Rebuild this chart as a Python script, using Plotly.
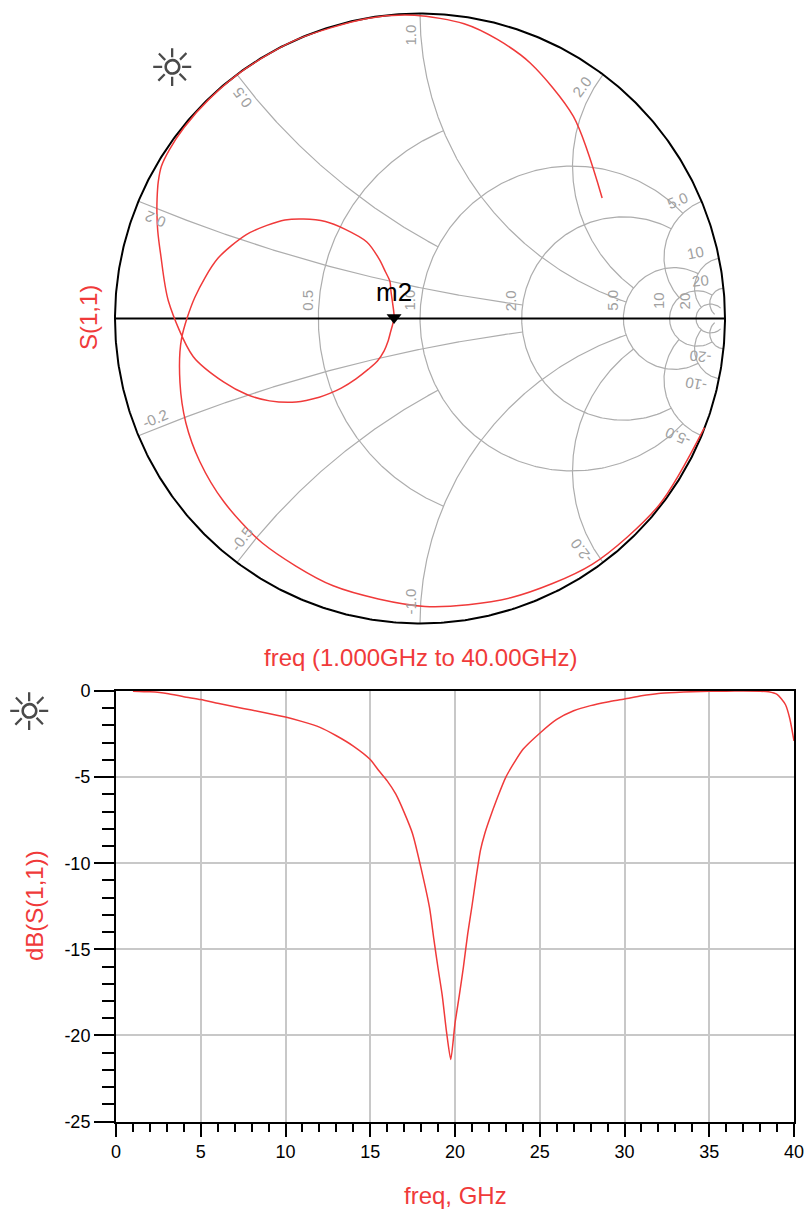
import numpy as np
import plotly.graph_objects as go

# ---------------- S11 sweep (magnitude in dB, phase in degrees) ----------------
freq_ghz = [1, 2, 3, 4, 5, 6, 7, 8, 9, 10, 11, 12, 13, 14, 15, 15.5, 16, 16.5, 17,
            17.5, 18, 18.5, 18.75, 19, 19.25, 19.5, 19.75, 20, 20.25, 20.5, 20.75, 21,
            21.25, 21.5, 21.75, 22, 22.5, 23, 23.5, 24, 25, 26, 27, 28, 29, 30, 31, 32,
            33, 34, 35, 36, 37, 38, 38.5, 39, 39.25, 39.5, 39.75, 40]
s11_db = [-0.01, -0.05, -0.14, -0.33, -0.50, -0.71, -0.92, -1.11, -1.30, -1.51, -1.78,
          -2.10, -2.60, -3.20, -3.98, -4.62, -5.22, -5.98, -7.05, -8.30, -10.3, -12.6,
          -14.4, -16.1, -17.7, -19.8, -21.4, -19.3, -17.7, -16.0, -14.1, -12.5, -10.8,
          -9.25, -8.30, -7.55, -6.20, -5.00, -4.15, -3.40, -2.45, -1.65, -1.15, -0.85,
          -0.64, -0.47, -0.28, -0.14, -0.08, -0.04, -0.02, -0.01, 0.0, -0.01, -0.05,
          -0.20, -0.45, -0.80, -1.60, -2.90]
s11_ang = [-21, -38, -55, -72, -89, -108, -125, -137, -147, -156, -165, -175, 174.6,
           163.5, 154.2, 148.7, 143.9, 139.5, 134.3, 130.2, 124.8, 124.5, 126.5, 129,
           136.9, 151.2, 178, -154, -144, -137.9, -135, -135.5, -136.7, -138.5, -140.3,
           -142, -146, -151.3, -156.3, -162, -170.5, 176, 166.1, 161.5, 158.2, 155.5,
           152.4, 149.5, 146, 141, 134, 125, 114, 100, 91, 81.5, 74.5, 66.6, 52.8, 33.5]

marker_freq = 19.75
marker_name = "m2"

# ---------------- Smith chart grid definition ----------------
res_circles = [0.5, 1.0, 2.0, 5.0, 10.0, 20.0]
res_extent = [1.0, 5.0, 5.0, 10.0, 20.0, 50.0]      # |x| reach of each r circle
res_text = ["0.5", "1.0", "2.0", "5.0", "10", "20"]
react_arcs = [0.2, 0.5, 1.0, 2.0, 5.0, 10.0, 20.0]
react_extent = [2.0, 1.0, 5.0, 5.0, 10.0, 20.0, 50.0]  # r reach of each x arc
react_text = ["0.2", "0.5", "1.0", "2.0", "5.0", "10", "20"]

# ---------------- rectangular plot ticks ----------------
f_ticks = [0, 5, 10, 15, 20, 25, 30, 35, 40]
db_ticks = [0, -5, -10, -15, -20, -25]
db_ticktext = ["0", "-5", "-10", "-15", "-20", "-25"]

W, H = 806, 1220
FONT = "Liberation Sans, Arial, sans-serif"
RED = "#f03a3a"
GRID = "#adadad"
LABEL_GREY = "#a0a0a0"

# page placement (pixels)
CX, CY, R = 420.0, 318.5, 305.0
PAD = 1.04
RL, RR, RT, RB = 116.0, 794.0, 691.0, 1121.5


def to_gamma(z):
    return (z - 1) / (z + 1)


fig = go.Figure()

# ---- Smith grid lines ----
gx, gy = [], []
for r, xm in zip(res_circles, res_extent):
    t = np.linspace(-np.arctan(xm), np.arctan(xm), 401)
    g = to_gamma(r + 1j * np.tan(t))
    gx += list(g.real) + [None]
    gy += list(g.imag) + [None]
for x, rm in zip(react_arcs, react_extent):
    for s in (1, -1):
        t = np.linspace(0, np.arctan(rm), 401)
        g = to_gamma(np.tan(t) + 1j * s * x)
        gx += list(g.real) + [None]
        gy += list(g.imag) + [None]
fig.add_trace(go.Scatter(x=gx, y=gy, mode="lines", line=dict(color=GRID, width=1.2),
                         hoverinfo="skip", xaxis="x2", yaxis="y2"))

# outer boundary and real axis
th = np.linspace(0, 2 * np.pi, 721)
fig.add_trace(go.Scatter(x=np.cos(th), y=np.sin(th), mode="lines",
                         line=dict(color="black", width=2), hoverinfo="skip",
                         xaxis="x2", yaxis="y2"))
fig.add_trace(go.Scatter(x=[-1, 1], y=[0, 0], mode="lines",
                         line=dict(color="black", width=1.8), hoverinfo="skip",
                         xaxis="x2", yaxis="y2"))

# ---- S11 trace on the Smith chart ----
mag = 10 ** (np.array(s11_db) / 20.0)
ang = np.deg2rad(np.array(s11_ang))
gam = mag * np.exp(1j * ang)
fig.add_trace(go.Scatter(x=gam.real, y=gam.imag, mode="lines",
                         line=dict(color=RED, width=1.5, shape="spline", smoothing=0.8),
                         xaxis="x2", yaxis="y2"))

mi = freq_ghz.index(marker_freq)
fig.add_trace(go.Scatter(x=[gam.real[mi]], y=[gam.imag[mi]], mode="markers",
                         marker=dict(symbol="triangle-down", size=13, color="black"),
                         xaxis="x2", yaxis="y2"))

# ---- dB(S11) vs frequency ----
fig.add_trace(go.Scatter(x=freq_ghz, y=s11_db, mode="lines",
                         line=dict(color=RED, width=1.5, shape="spline", smoothing=0.6),
                         xaxis="x", yaxis="y"))

annotations = []


def label(**kw):
    kw.setdefault("showarrow", False)
    kw.setdefault("xanchor", "center")
    kw.setdefault("yanchor", "middle")
    annotations.append(kw)


# resistance labels on the real axis
for r, txt in zip(res_circles, res_text):
    g0 = to_gamma(r)
    label(x=g0, y=0, xref="x2", yref="y2", text=txt, textangle=-90, xshift=-11,
          yshift=18, font=dict(family=FONT, size=15, color=LABEL_GREY))

# reactance labels just inside the rim
for x, txt in zip(react_arcs, react_text):
    for s in (1, -1):
        ge = to_gamma(1j * s * x)
        theta = np.angle(ge)
        radial = ge * (1 - 22.0 / R)
        tang = 1j * ge if s > 0 else -1j * ge
        pos = radial + tang * (10.0 / R)
        rot = -np.degrees(theta) if s > 0 else 180 - np.degrees(theta)
        rot = (rot + 180) % 360 - 180
        label(x=pos.real, y=pos.imag, xref="x2", yref="y2",
              text=txt if s > 0 else "-" + txt, textangle=rot,
              font=dict(family=FONT, size=15, color=LABEL_GREY))

# marker label
label(x=gam.real[mi], y=gam.imag[mi], xref="x2", yref="y2", text=marker_name,
      yshift=26, font=dict(family=FONT, size=26, color="black"))

# titles and palette icons
label(x=420 / W, y=1 - 657 / H, xref="paper", yref="paper",
      text="freq (1.000GHz to 40.00GHz)", font=dict(family=FONT, size=24, color=RED))
label(x=88 / W, y=1 - 318 / H, xref="paper", yref="paper", text="S(1,1)",
      textangle=-90, font=dict(family=FONT, size=24, color=RED))
label(x=34 / W, y=1 - 906 / H, xref="paper", yref="paper", text="dB(S(1,1))",
      textangle=-90, font=dict(family=FONT, size=24, color=RED))
label(x=455 / W, y=1 - 1195 / H, xref="paper", yref="paper", text="freq, GHz",
      font=dict(family=FONT, size=24, color=RED))
label(x=172 / W, y=1 - 68 / H, xref="paper", yref="paper", text="☼",
      font=dict(family="DejaVu Sans", size=52, color="#4a4a4a"))
label(x=30 / W, y=1 - 712 / H, xref="paper", yref="paper", text="☼",
      font=dict(family="DejaVu Sans", size=52, color="#4a4a4a"))

axis_common = dict(showline=True, linecolor="black", linewidth=2, mirror=True,
                   showgrid=True, gridcolor="#c8c8c8", gridwidth=1.5, zeroline=False,
                   ticks="outside", tickcolor="black", tickwidth=1.5, automargin=False,
                   layer="below traces",
                   tickfont=dict(family=FONT, size=18, color="black"))

fig.update_layout(
    template="none",
    font=dict(family=FONT),
    width=W, height=H, margin=dict(l=0, r=0, t=0, b=0, pad=0),
    paper_bgcolor="white", plot_bgcolor="white", showlegend=False,
    xaxis=dict(domain=[RL / W, RR / W], range=[0, 40], tickvals=f_ticks, ticklen=13,
               minor=dict(dtick=1, ticks="outside", ticklen=8, tickcolor="black",
                          tickwidth=1.5, showgrid=False),
               anchor="y", **axis_common),
    yaxis=dict(domain=[1 - RB / H, 1 - RT / H], range=[-25, 0], tickvals=db_ticks,
               ticktext=db_ticktext, ticklen=20,
               minor=dict(dtick=1, ticks="outside", ticklen=12, tickcolor="black",
                          tickwidth=1.5, showgrid=False),
               anchor="x", **axis_common),
    xaxis2=dict(domain=[(CX - R * PAD) / W, (CX + R * PAD) / W], range=[-PAD, PAD],
                visible=False, anchor="y2", automargin=False),
    yaxis2=dict(domain=[1 - (CY + R * PAD) / H, 1 - (CY - R * PAD) / H],
                range=[-PAD, PAD], visible=False, anchor="x2", automargin=False),
    annotations=annotations,
)

fig.write_html("out.html")
